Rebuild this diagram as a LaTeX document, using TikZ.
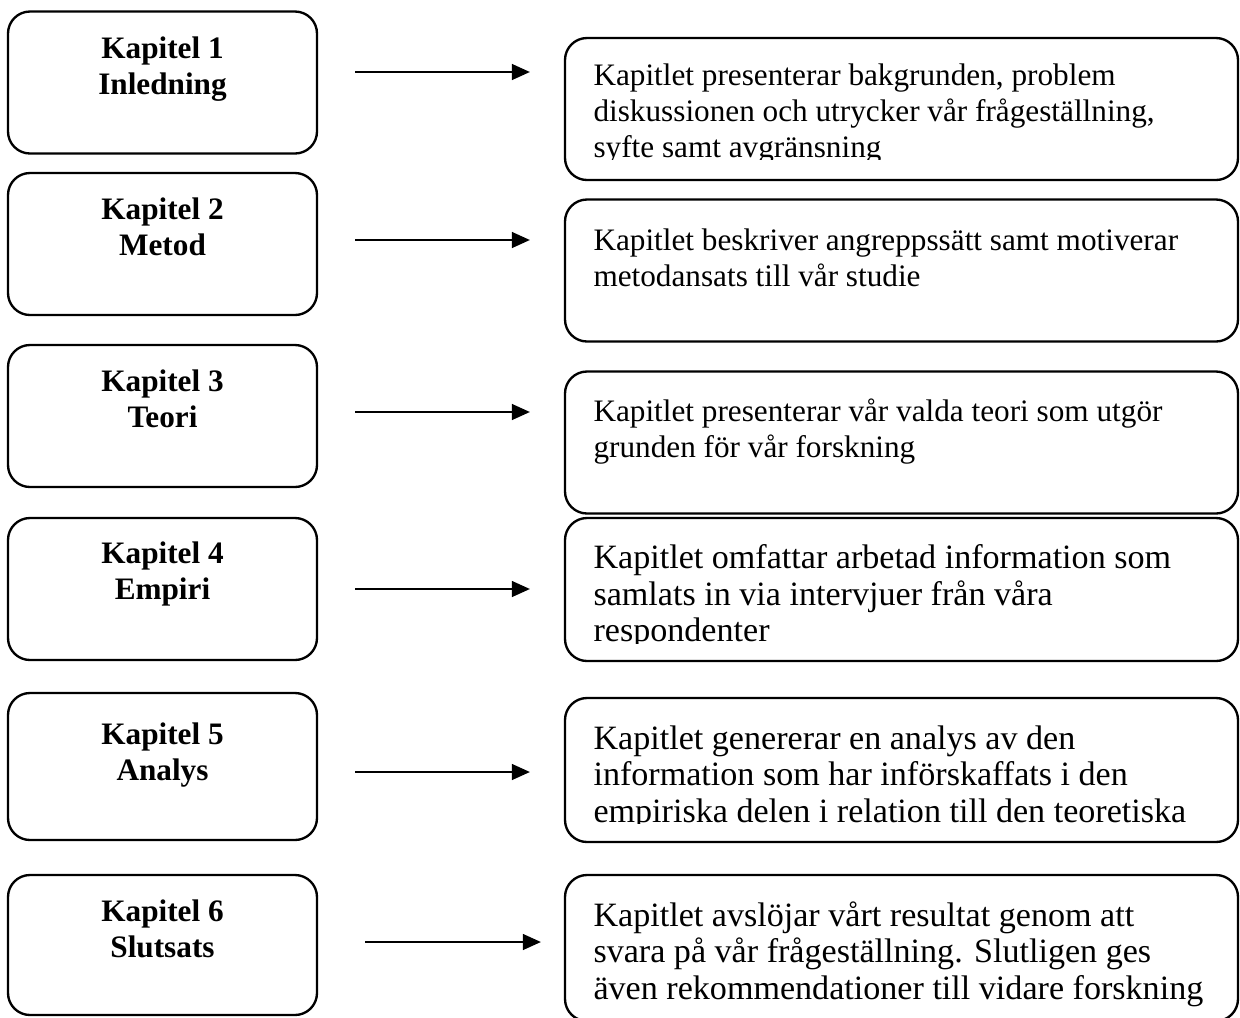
\documentclass[tikz,border=0pt]{standalone}
\usepackage{fontspec}
\setmainfont{Liberation Serif}
\usetikzlibrary{positioning,arrows.meta}
\newlength\pxu
\setlength\pxu{0.0135cm}

\begin{document}
\begin{tikzpicture}[x=0.0135cm,y=-0.0135cm]
\tikzset{chapbox/.style={draw,rounded corners=22\pxu,line width=0.9pt,minimum width=309\pxu,minimum height=142\pxu,inner sep=0pt}}
\tikzset{descbox/.style={chapbox,minimum width=673\pxu}}
\tikzset{chaptitle/.style={font=\bfseries\fontsize{12}{13.8}\selectfont,align=center,inner sep=0pt,anchor=north}}
\tikzset{desctext/.style={font=\fontsize{12}{13.8}\selectfont,align=left,inner sep=0pt,anchor=north west}}
\tikzset{desctextb/.style={desctext,font=\fontsize{13.1}{14.1}\selectfont}}
\tikzset{flow/.style={line width=1.1pt,-{Triangle[length=7pt,width=6pt]}}}
\useasboundingbox (0,0) rectangle (1240,1017);
% chapters
 \node[chapbox] (ch1) at (162.5,82.5) {};
 \node[chapbox] (ch2) at (162.5,244) {};
 \node[chapbox] (ch3) at (162.5,416) {};
 \node[chapbox] (ch4) at (162.5,589) {};
 \node[chapbox,minimum height=147\pxu] (ch5) at (162.5,766.5) {};
 \node[chapbox,minimum height=140\pxu] (ch6) at (162.5,945) {};
 \node[chaptitle] (ch1t) at (162.5,36) {Kapitel 1\\Inledning};
 \node[chaptitle] (ch2t) at (162.5,197) {Kapitel 2\\Metod};
 \node[chaptitle] (ch3t) at (162.5,369) {Kapitel 3\\Teori};
 \node[chaptitle] (ch4t) at (162.5,541) {Kapitel 4\\Empiri};
 \node[chaptitle] (ch5t) at (162.5,722) {Kapitel 5\\Analys};
 \node[chaptitle] (ch6t) at (162.5,899) {Kapitel 6\\Slutsats};
% descriptions
 \node[descbox] (ds1) at (901.5,109) {};
 \node[descbox] (ds2) at (901.5,270.5) {};
 \node[descbox] (ds3) at (901.5,442.5) {};
 \node[descbox,minimum height=143\pxu] (ds4) at (901.5,589.5) {};
 \node[descbox,minimum height=144\pxu] (ds5) at (901.5,770) {};
 \node[descbox,minimum height=146\pxu] (ds6) at (901.5,948) {};
\begin{scope}
 \clip (567,40) rectangle (1236,159);
 \node[desctext] (ds1t) at (593,63) {Kapitlet presenterar bakgrunden, problem\\diskussionen och utrycker vår frågeställning,\\syfte samt avgränsning};
\end{scope}
 \node[desctext] (ds2t) at (593,228) {Kapitlet beskriver angreppssätt samt motiverar\\metodansats till vår studie};
 \node[desctext] (ds3t) at (593,398) {Kapitlet presenterar vår valda teori som utgör\\grunden för vår forskning};
\begin{scope}
 \clip (567,520) rectangle (1236,643);
 \node[desctextb] (ds4t) at (593,544) {Kapitlet omfattar arbetad information som\\samlats in via intervjuer från våra\\respondenter};
\end{scope}
\begin{scope}
 \clip (567,700) rectangle (1236,823);
 \node[desctextb] (ds5t) at (593,725) {Kapitlet genererar en analys av den\\information som har införskaffats i den\\empiriska delen i relation till den teoretiska};
\end{scope}
 \node[desctextb] (ds6t) at (593,901) {Kapitlet avslöjar vårt resultat genom att\\svara på vår frågeställning. Slutligen ges\\även rekommendationer till vidare forskning};
% arrows
 \coordinate (a1s) at (355,72);  \coordinate (a1e) at (530,72);
 \coordinate (a2s) at (355,240); \coordinate (a2e) at (530,240);
 \coordinate (a3s) at (355,412); \coordinate (a3e) at (530,412);
 \coordinate (a4s) at (355,589); \coordinate (a4e) at (530,589);
 \coordinate (a5s) at (355,772); \coordinate (a5e) at (530,772);
 \coordinate (a6s) at (365,942); \coordinate (a6e) at (541,942);
 \draw[flow] (a1s) -- (a1e);
 \draw[flow] (a2s) -- (a2e);
 \draw[flow] (a3s) -- (a3e);
 \draw[flow] (a4s) -- (a4e);
 \draw[flow] (a5s) -- (a5e);
 \draw[flow] (a6s) -- (a6e);
\end{tikzpicture}
\end{document}
